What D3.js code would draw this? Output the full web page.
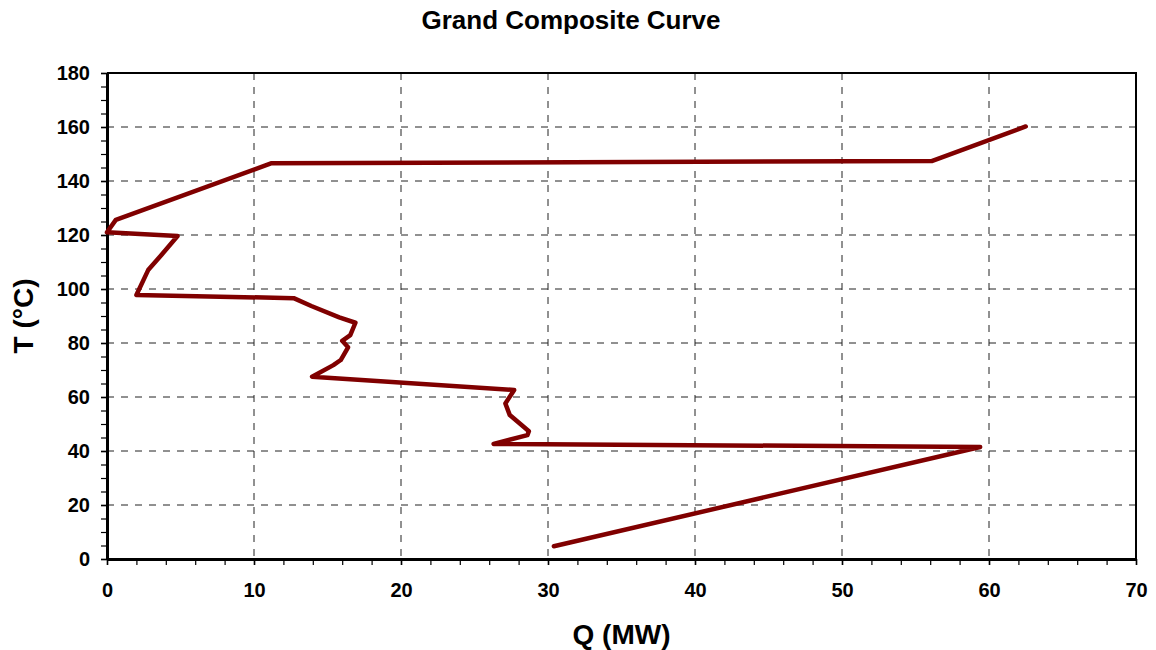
<!DOCTYPE html>
<html>
<head>
<meta charset="utf-8">
<script src="https://cdn.jsdelivr.net/npm/d3@7"></script>
<style>
  body { margin: 0; background: #fff; }
  text { font-family: "Liberation Sans", Arial, sans-serif; font-weight: bold; fill: #000; }
</style>
</head>
<body>
<div id="chart"></div>
<script>
// Grand composite curve (Q in MW, T in degC)
const heatFlow = [62.5, 56.1, 11.2, 0.6, 0, 4.8, 3.7, 2.8, 2.0, 12.7, 13.9, 15.8, 16.9, 16.55, 16.0, 16.4, 15.9, 15.4, 13.95, 27.7, 27.1, 27.4, 28.7, 28.6, 26.3, 59.4, 30.4];
const temperature = [160.2, 147.4, 146.6, 125.6, 121, 119.6, 112.6, 107, 97.8, 96.6, 93.7, 89.5, 87.5, 82.9, 80.8, 78.4, 73.7, 71.8, 67.5, 62.6, 57.6, 53.3, 47.3, 45.9, 42.6, 41.5, 4.7];

const xTicks = [0, 10, 20, 30, 40, 50, 60, 70];
const yTicks = [0, 20, 40, 60, 80, 100, 120, 140, 160, 180];

const width = 1156, height = 650;
const plotLeft = 107, plotRight = 1136, plotTop = 73, plotBottom = 559;

const svg = d3.select("#chart")
  .append("svg")
  .attr("width", width)
  .attr("height", height);

const x = d3.scaleLinear().domain([0, 70]).range([plotLeft, plotRight]);
const y = d3.scaleLinear().domain([0, 180]).range([plotBottom, plotTop]);

// dashed grid
svg.append("g")
  .selectAll("line")
  .data(xTicks.slice(1, -1))
  .join("line")
  .attr("x1", d => x(d)).attr("x2", d => x(d))
  .attr("y1", plotTop).attr("y2", plotBottom)
  .attr("stroke", "#222")
  .attr("stroke-width", 1)
  .attr("stroke-dasharray", "7,7");

svg.append("g")
  .selectAll("line")
  .data(yTicks.slice(1, -1))
  .join("line")
  .attr("x1", plotLeft).attr("x2", plotRight)
  .attr("y1", d => y(d)).attr("y2", d => y(d))
  .attr("stroke", "#222")
  .attr("stroke-width", 1)
  .attr("stroke-dasharray", "7,7");

// top and right frame
svg.append("path")
  .attr("d", `M ${plotLeft} ${plotTop} H ${plotRight} V ${plotBottom}`)
  .attr("fill", "none")
  .attr("stroke", "#000")
  .attr("stroke-width", 2);

// minor ticks
const xAxisMinor = d3.axisBottom(x).ticks(35).tickSize(6).tickFormat("");
const yAxisMinor = d3.axisLeft(y).ticks(45).tickSize(6).tickFormat("");

const gxm = svg.append("g").attr("transform", `translate(0,${plotBottom})`).call(xAxisMinor);
const gym = svg.append("g").attr("transform", `translate(${plotLeft},0)`).call(yAxisMinor);
[gxm, gym].forEach(g => {
  g.select(".domain").remove();
  g.selectAll("line").attr("stroke", "#000").attr("stroke-width", 1.2);
});

// major axes
const gx = svg.append("g")
  .attr("transform", `translate(0,${plotBottom})`)
  .call(d3.axisBottom(x).tickValues(xTicks).tickSize(6).tickPadding(18).tickSizeOuter(0));
const gy = svg.append("g")
  .attr("transform", `translate(${plotLeft},0)`)
  .call(d3.axisLeft(y).tickValues(yTicks).tickSize(6).tickPadding(11).tickSizeOuter(0));

[gx, gy].forEach(g => {
  g.select(".domain").attr("stroke", "#000").attr("stroke-width", 3);
  g.selectAll(".tick line").attr("stroke", "#000").attr("stroke-width", 1.5);
  g.selectAll(".tick text")
    .attr("font-family", "'Liberation Sans', Arial, sans-serif")
    .attr("font-weight", "bold")
    .attr("font-size", 20)
    .attr("fill", "#000");
});

// the curve
const line = d3.line()
  .x(i => x(heatFlow[i]))
  .y(i => y(temperature[i]));

svg.append("path")
  .datum(d3.range(heatFlow.length))
  .attr("d", line)
  .attr("fill", "none")
  .attr("stroke", "#800000")
  .attr("stroke-width", 4.5)
  .attr("stroke-linejoin", "round")
  .attr("stroke-linecap", "round");

// titles
svg.append("text")
  .attr("x", 571)
  .attr("y", 29)
  .attr("text-anchor", "middle")
  .attr("font-size", 26)
  .text("Grand Composite Curve");

svg.append("text")
  .attr("x", (plotLeft + plotRight) / 2)
  .attr("y", 644)
  .attr("text-anchor", "middle")
  .attr("font-size", 28)
  .text("Q (MW)");

svg.append("text")
  .attr("transform", `translate(33,${(plotTop + plotBottom) / 2}) rotate(-90)`)
  .attr("text-anchor", "middle")
  .attr("font-size", 28)
  .text("T (°C)");
</script>
</body>
</html>
